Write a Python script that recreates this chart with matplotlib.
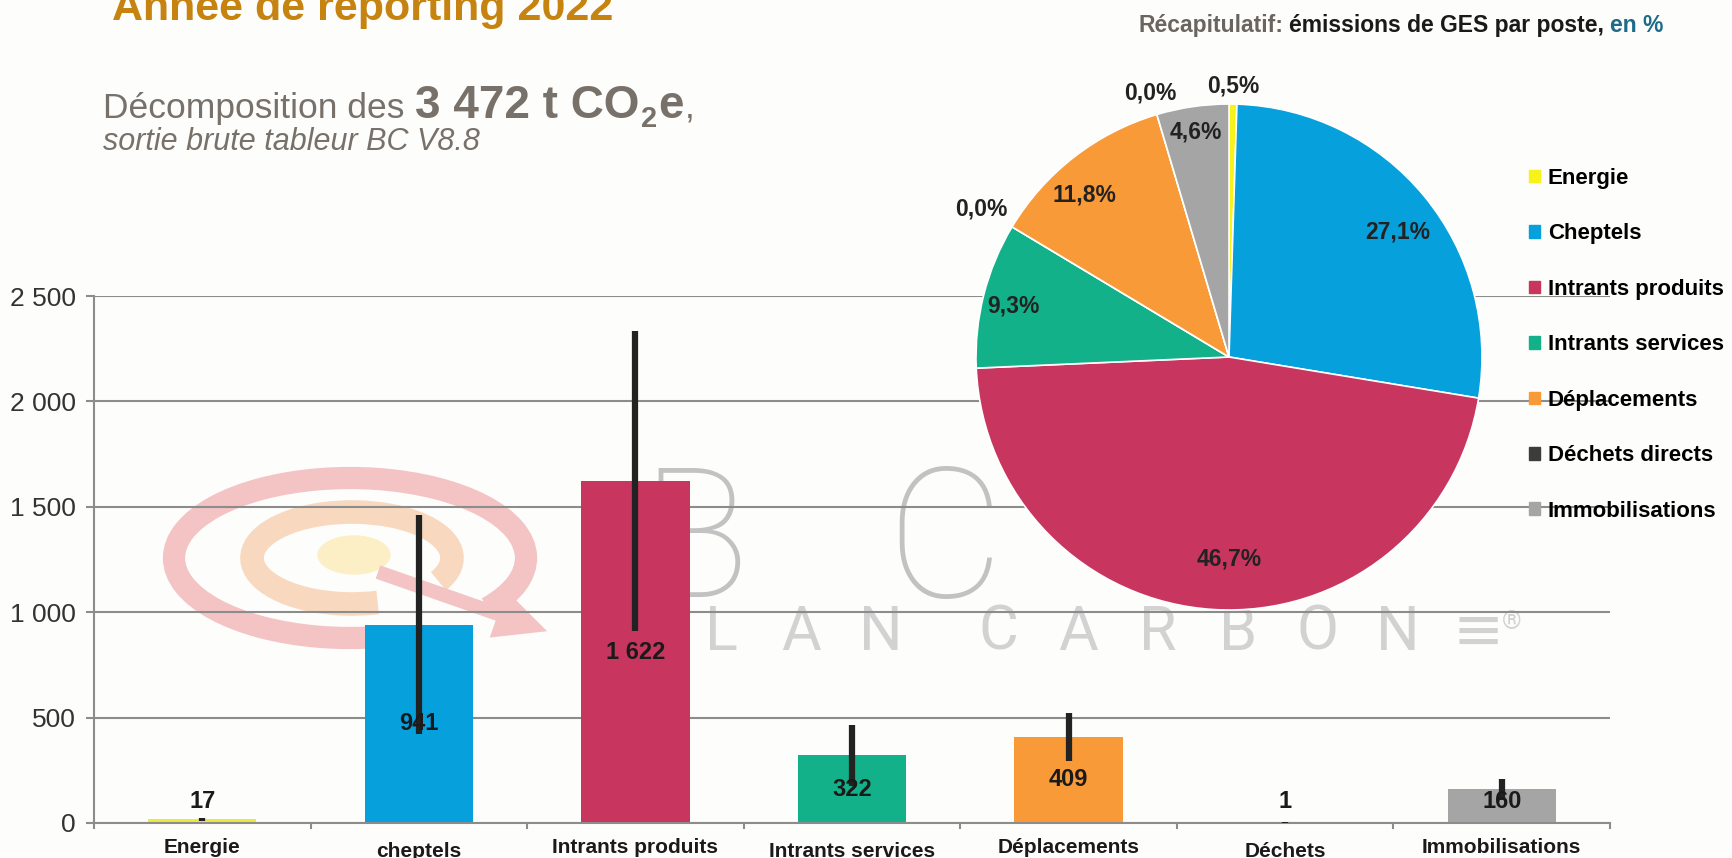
import numpy as np
import matplotlib
matplotlib.use('Agg')
import matplotlib.pyplot as plt
from matplotlib import font_manager
from matplotlib.patches import Patch, Arc, Ellipse, FancyArrow

# données
categories = ['Energie', 'cheptels', 'Intrants produits', 'Intrants services',
              'Déplacements', 'Déchets', 'Immobilisations']
values = [17, 941, 1622, 322, 409, 1, 160]
uncert = [8, 520, 710, 145, 115, 2, 50]
yticks = [0, 500, 1000, 1500, 2000, 2500]

pie_names = ['Energie', 'Cheptels', 'Intrants produits', 'Intrants services', None,
             'Déplacements', 'Déchets directs', 'Immobilisations']
pie_pct = [0.5, 27.1, 46.7, 9.3, 0.0, 11.8, 0.0, 4.6]

bar_colors = ['#ecea3c', '#06a0dd', '#c8365f', '#13b189', '#f99a38', '#3c3c3c', '#a5a5a5']
pie_colors = ['#f6f21a', '#06a0dd', '#c8365f', '#13b189', '#888888', '#f99a38', '#3c3c3c', '#a5a5a5']

avail = {f.name for f in font_manager.fontManager.ttflist}
SANS = 'Liberation Sans'
LIGHT = 'Roboto' if 'Roboto' in avail else 'DejaVu Sans'

W, H = 1732, 858
fig = plt.figure(figsize=(W / 100, H / 100), dpi=100, facecolor='#fdfdfc')
grey = '#8c8c8c'
wm = '#c8c8c8'

# filigrane Bilan Carbone (fond)
bg = fig.add_axes([0, 0, 1, 1], zorder=0)
bg.set_xlim(0, W)
bg.set_ylim(0, H)
bg.axis('off')
bg.add_patch(Arc((350, H - 558), 352, 160, theta1=-20, theta2=290, color='#f4c3c3', lw=16))
bg.add_patch(Arc((352, H - 558), 200, 92, theta1=-15, theta2=300, color='#f8d9bf', lw=17))
bg.add_patch(Ellipse((354, H - 555), 72, 38, color='#fcefc6'))
bg.add_patch(FancyArrow(378, H - 572, 120, -42, width=14, head_width=50, head_length=52,
                        color='#f4c3c3', lw=0))
bg.text(695, H - 597, 'B', fontsize=130, family=LIGHT, weight='light', color='#c2c2c2',
        ha='center', va='baseline')
bg.text(945, H - 597, 'C', fontsize=130, family=LIGHT, weight='light', color='#c2c2c2',
        ha='center', va='baseline')
xpos = 721
for ch in 'LAN CARBON≡':
    if ch == ' ':
        xpos += 37
        continue
    fam = 'DejaVu Sans' if ch == '≡' else LIGHT
    bg.text(xpos, H - 650, ch, fontsize=44, family=fam, weight='normal',
            color='#d2d2d2', ha='center', va='baseline')
    xpos += 80
bg.text(1512, H - 610, '®', fontsize=18, family=LIGHT, color='#d2d2d2', ha='center', va='top')

# histogramme
ax = fig.add_axes([94 / W, 35 / H, (1610 - 94) / W, (823 - 296) / H], zorder=1)
ax.patch.set_alpha(0)
x = np.arange(len(categories))
ax.bar(x, values, width=0.5, color=bar_colors, zorder=2)
ax.errorbar(x, values, yerr=uncert, fmt='none', ecolor='#222222', elinewidth=4.5,
            capsize=0, zorder=3)
for i, v in enumerate(values):
    ax.text(i, max(v / 2, 100), f'{v:,}'.replace(',', ' '), ha='center', va='center',
            fontsize=17, weight='bold', family=SANS, color='#1a1a1a', zorder=4)

ax.set_xlim(-0.5, len(categories) - 0.5)
ax.set_ylim(0, 2500)
ax.set_yticks(yticks)
ax.set_yticklabels([f'{t:,}'.replace(',', ' ') for t in yticks], fontsize=19,
                   family=SANS, color='#333333')
ax.set_xticks(np.arange(len(categories) + 1) - 0.5)
ax.set_xticklabels([])
ax.set_xticks(x, minor=True)
ax.set_xticklabels(categories, minor=True, fontsize=15, weight='bold', family=SANS,
                   color='#1a1a1a')
ax.tick_params(axis='x', which='minor', length=0)
ax.tick_params(axis='x', which='major', length=4, color=grey, width=1.5)
ax.tick_params(axis='y', length=6, color=grey, width=1.5, pad=7)
for i, t in enumerate(ax.xaxis.get_minor_ticks()):
    t.set_pad(11 if i % 2 == 0 else 14)
for s in ['top', 'right']:
    ax.spines[s].set_visible(False)
for s in ['left', 'bottom']:
    ax.spines[s].set_color(grey)
    ax.spines[s].set_linewidth(1.5)
ax.grid(axis='y', color=grey, lw=1.5)
ax.set_axisbelow(True)

# camembert
R = 253
axp = fig.add_axes([(1229 - R) / W, (H - 357 - R) / H, 2 * R / W, 2 * R / H], zorder=3)
axp.pie(pie_pct, colors=pie_colors, startangle=90, counterclock=False, radius=1,
        wedgeprops=dict(edgecolor='white', linewidth=1.2))
axp.set_xlim(-1, 1)
axp.set_ylim(-1, 1)
axp.axis('off')
dist = [1.07, 0.83, 0.80, 0.875, 1.14, 0.86, 1.09, 0.90]
nudge = [0, -3, 3.5, 1, 0, 4, 0, 0]
cum = np.cumsum(pie_pct) - np.array(pie_pct) / 2
for p, c, d, n in zip(pie_pct, cum, dist, nudge):
    a = np.deg2rad(90 - 3.6 * c + n)
    axp.text(d * np.cos(a), d * np.sin(a), f'{p:.1f}%'.replace('.', ','), ha='center',
             va='center', fontsize=16.5, weight='bold', family=SANS, color='#222222',
             clip_on=False)

handles = [Patch(color=c) for n, c in zip(pie_names, pie_colors) if n]
labels = [n for n in pie_names if n]
fig.legend(handles, labels, loc='upper left', bbox_to_anchor=(1529 / W, 1 - 168 / H),
           frameon=False, prop=dict(family=SANS, weight='bold', size=16),
           handlelength=0.5, handleheight=0.5, handletextpad=0.35, labelspacing=1.55,
           borderaxespad=0, borderpad=0)

# titres
renderer = fig.canvas.get_renderer()


def chain(x_px, y_px, parts):
    for s, kw, gap, dy in parts:
        t = fig.text(x_px / W, 1 - (y_px + dy) / H, s, ha='left', va='baseline', **kw)
        x_px += t.get_window_extent(renderer=renderer).width + gap


fig.text(112 / W, 1 - 20 / H, 'Année de reporting 2022', fontsize=31, weight='bold',
         family=SANS, color='#c6830f', ha='left', va='baseline')

hg = '#77716a'
chain(103, 118, [
    ('Décomposition des', dict(fontsize=25.5, family=SANS, color=hg), 11, 0),
    ('3 472 t CO', dict(fontsize=33, family=SANS, weight='bold', color=hg), 1, 0),
    ('2', dict(fontsize=21, family=SANS, weight='bold', color=hg), 1, 9),
    ('e', dict(fontsize=33, family=SANS, weight='bold', color=hg), 1, 0),
    (',', dict(fontsize=25.5, family=SANS, color=hg), 0, 0),
])
fig.text(103 / W, 1 - 150 / H, 'sortie brute tableur BC V8.8', fontsize=22, family=SANS,
         style='italic', color=hg, ha='left', va='baseline')

chain(1138, 32, [
    ('Récapitulatif:', dict(fontsize=16.5, family=SANS, weight='bold', color='#6b655f'), 6, 0),
    ('émissions de GES par poste,', dict(fontsize=16.5, family=SANS, weight='bold',
                                         color='#1a1a1a'), 6, 0),
    ('en %', dict(fontsize=16.5, family=SANS, weight='bold', color='#1d6b88'), 0, 0),
])

fig.savefig('out.png', dpi=100, facecolor=fig.get_facecolor())
